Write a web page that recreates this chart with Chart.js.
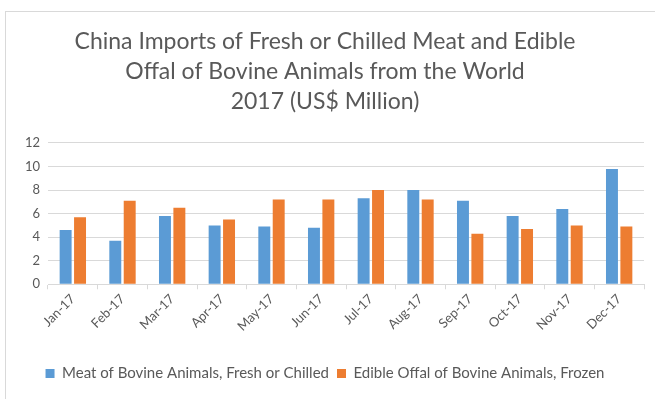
<!DOCTYPE html>
<html>
<head>
<meta charset="utf-8">
<script src="https://cdn.jsdelivr.net/npm/chart.js@4.4.1/dist/chart.umd.min.js"></script>
<style>
  html, body { margin: 0; padding: 0; background: #fff; }
  .frame {
    position: absolute; left: 5px; top: 11px;
    width: 650px; height: 388px;
    border-left: 1px solid #d9d9d9; border-top: 1px solid #d9d9d9;
  }
  #importChart { display: block; }
</style>
</head>
<body>
<div class="frame">
  <canvas id="importChart" width="650" height="388"></canvas>
</div>
<script>
// 2017 monthly imports, US$ million
const months = ['Jan-17', 'Feb-17', 'Mar-17', 'Apr-17', 'May-17', 'Jun-17',
                'Jul-17', 'Aug-17', 'Sep-17', 'Oct-17', 'Nov-17', 'Dec-17'];
const freshMeat = [4.6, 3.7, 5.8, 5.0, 4.9, 4.8, 7.3, 8.0, 7.1, 5.8, 6.4, 9.8];
const frozenOffal = [5.7, 7.1, 6.5, 5.5, 7.2, 7.2, 8.0, 7.2, 4.3, 4.7, 5.0, 4.9];
const titleLines = ['China Imports of Fresh or Chilled Meat and Edible',
                    'Offal of Bovine Animals from the World',
                    '2017 (US$ Million)'];

const textGrey = '#595959';
const lineGrey = '#d9d9d9';
const baseFont = 'Lato, "Open Sans", sans-serif';

const ctx = document.getElementById('importChart').getContext('2d');
const chart = new Chart(ctx, {
  type: 'bar',
  data: {
    labels: months,
    datasets: [{
      label: 'Meat of Bovine Animals, Fresh or Chilled',
      data: freshMeat,
      backgroundColor: '#5b9bd5',
      categoryPercentage: 0.58,
      barPercentage: 0.83
    }, {
      label: 'Edible Offal of Bovine Animals, Frozen',
      data: frozenOffal,
      backgroundColor: '#ed7d31',
      categoryPercentage: 0.58,
      barPercentage: 0.83
    }]
  },
  options: {
    responsive: false,
    animation: false,
    layout: { padding: { left: 0, right: 12, top: 0, bottom: 9 } },
    plugins: {
      title: {
        display: true,
        text: titleLines,
        color: textGrey,
        font: { family: baseFont, size: 23, weight: 'normal', lineHeight: 1.304 },
        padding: { top: 15, bottom: 26 }
      },
      legend: {
        position: 'bottom',
        labels: {
          color: textGrey,
          font: { family: baseFont, size: 15 },
          boxWidth: 9,
          boxHeight: 9,
          padding: 8
        }
      },
      tooltip: { enabled: false }
    },
    scales: {
      x: {
        grid: { drawOnChartArea: false, drawTicks: true, tickLength: 5, color: lineGrey },
        border: { color: lineGrey },
        ticks: {
          color: textGrey,
          font: { family: baseFont, size: 13 },
          minRotation: 45,
          maxRotation: 45,
          padding: 2
        },
        afterFit(scale) { scale.height += 22; }
      },
      y: {
        min: 0,
        max: 12,
        grid: { color: lineGrey, drawTicks: false },
        border: { display: false },
        ticks: {
          stepSize: 2,
          color: textGrey,
          font: { family: baseFont, size: 13 },
          padding: 8
        },
        afterFit(scale) { scale.width = 42; }
      }
    }
  }
});
</script>
</body>
</html>
